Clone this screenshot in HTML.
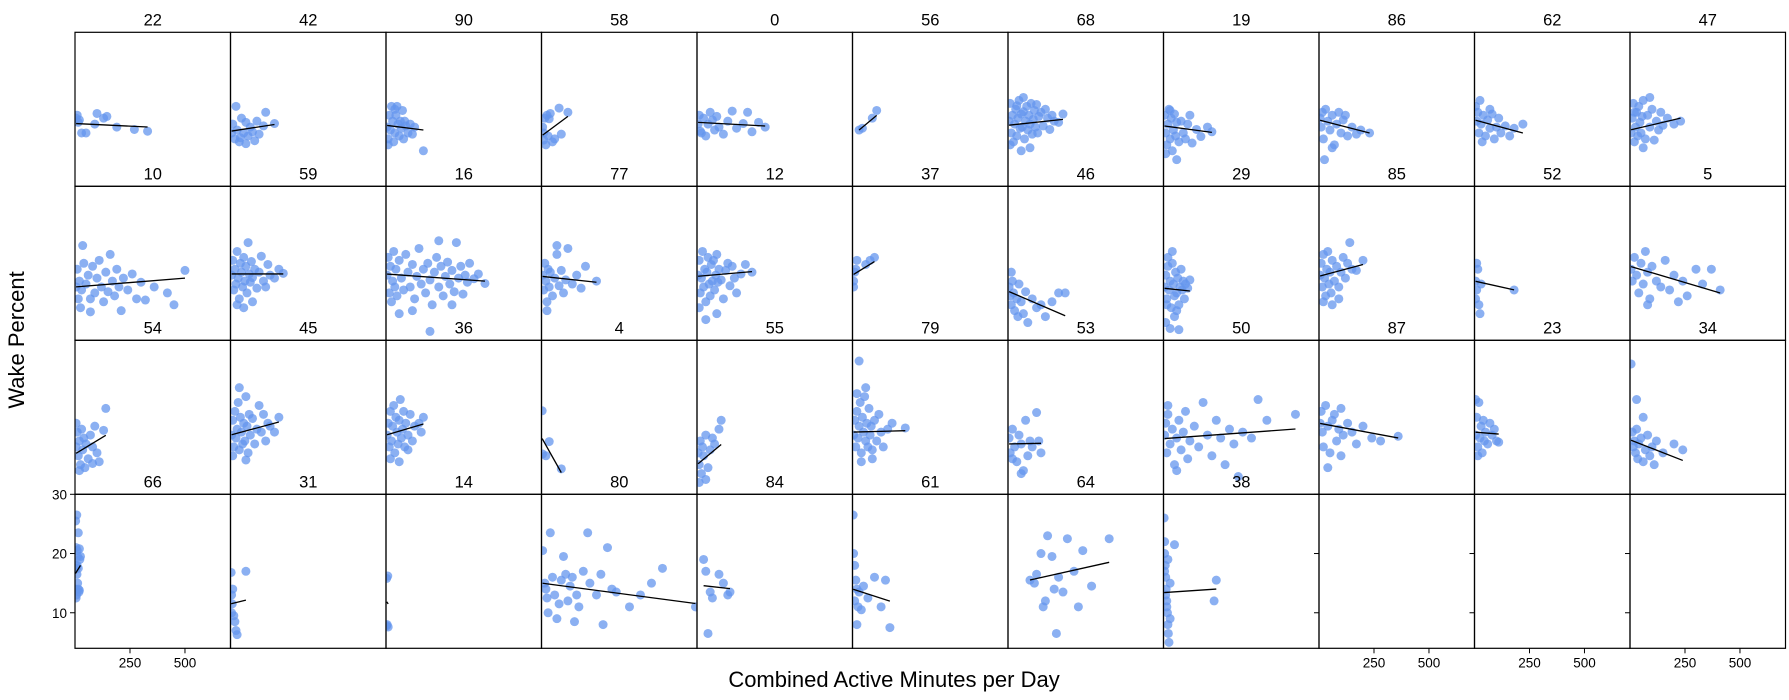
<!DOCTYPE html>
<html><head><meta charset="utf-8"><style>
html,body{margin:0;padding:0;background:#fff;}
svg{display:block;font-family:"Liberation Sans","DejaVu Sans",sans-serif;}
</style></head><body>
<svg id="chart" width="1789" height="700" viewBox="0 0 1789 700" xmlns="http://www.w3.org/2000/svg">
<text x="24" y="340" font-size="22" text-anchor="middle" transform="rotate(-90 24 340)">Wake Percent</text>
<text x="894" y="687" font-size="22" text-anchor="middle">Combined Active Minutes per Day</text>
</svg>
<script>
const panelTitles = ["22","42","90","58","0","56","68","19","86","62","47",
"10","59","16","77","12","37","46","29","85","52","5",
"54","45","36","4","55","79","53","50","87","23","34",
"66","31","14","80","84","61","64","38"];
const panelPoints = [
"5,15.5 10,16 30,13 50,13 15,14.8 90,14.5 100,16.3 130,15.5 145,15.8 190,14 270,13.6 330,13.3 20,15.2",
"5,13 10,14.5 20,12 30,13.5 40,11.5 50,15.5 60,13 70,14.8 80,12.5 90,14 100,13.2 110,11.7 120,15 130,12.8 150,14.2 160,16.5 200,14.6 25,17.5 70,11.2 45,12.2",
"5,14 10,12 15,16 20,13.5 25,17.5 30,15 35,11.5 40,13 45,16 50,17.5 55,14.5 60,12.5 65,15 70,13.8 75,16.8 80,12 90,14.2 100,13 110,14.5 120,12.8 130,14 170,10 10,11 40,17 85,15",
"5,14 10,13 15,15.5 20,11 25,16 30,12.5 40,16.3 50,11.5 60,12 80,17.2 90,12.8 120,16.5 10,11.8 35,15.4",
"5,14.5 10,16 20,13 30,15.5 40,12.5 50,14.5 60,16.5 80,13.5 90,15.8 100,14 120,12.8 140,15 160,16.7 180,13.8 210,14.6 230,16.5 250,13.2 280,14.8 310,14 15,13.3 70,15.2",
"30,13.5 45,13.8 90,15.5 110,16.8",
"5,15 10,18 15,13 20,16 25,11.5 30,14.5 35,17 40,12.5 45,15.5 50,18.5 55,13.8 60,16.2 65,14 70,19 75,12 80,15 85,17.5 90,13.5 95,16 100,14.5 105,18 110,12.8 115,15.3 120,16.8 125,14 130,17.8 135,13 140,15.8 150,16.5 160,14.2 170,17 180,15.5 190,13.6 200,16 210,15 230,14.8 250,16.2 10,11 60,10 100,10.5 40,17.6 70,16.6",
"5,16 10,13 15,11 20,14.5 25,17 30,12 35,15.5 40,10 45,13.5 50,16.2 55,12.5 60,14.8 70,11.5 80,15 90,13 100,12 110,14.5 120,16 130,11.3 150,13.6 170,12.4 200,14 220,13.2 60,8.5 10,9.5 30,16.8",
"5,15.5 10,14 15,16.5 20,12 30,17 40,15 50,13.5 60,16 70,11 80,14.5 90,16.5 100,13 110,15.2 130,12.5 150,14 170,12.8 190,13.5 230,13 25,8.5 60,10.5 120,16",
"5,17.5 10,15 15,16.5 20,13 25,18.5 30,14.5 40,16 50,12.5 60,15.2 70,13.8 80,16.2 90,12 100,14 110,15.5 120,13 140,14.2 160,12.5 180,13.8 220,14.5 35,11.5 70,17",
"5,13 10,15.5 15,18 20,11.5 25,14 30,16.5 35,12.5 40,17.5 45,14.8 50,13 55,15.8 60,18.5 70,12 80,16 90,14 100,17 110,11.8 120,15 130,13.5 140,16.5 150,14.3 170,15.5 200,14.5 230,15 60,10.5 90,19 20,16.5",
"5,13 10,16 15,11 20,14 25,9.5 30,12.5 40,17 50,13.5 60,15 70,11 80,16.5 90,12 100,14.5 110,17.5 120,13 130,10.5 140,15.5 150,12.2 160,18.5 170,14 180,11.5 190,16 200,13 210,9 220,14.5 240,12.5 260,15.2 280,11 300,13.8 320,10.8 360,13 420,12 450,10 500,15.8 35,20 70,8.8",
"5,15 10,17.5 15,12.5 20,16 25,13.5 30,19 35,14.5 40,11 45,17 50,15.5 55,13 60,18 65,14 70,16.5 75,12 80,20.5 85,15.2 90,13.8 95,17.3 100,14.6 110,16 120,12.8 130,15.5 140,18.2 150,14 160,13 170,16.8 180,15 200,14.5 220,16 240,15.3 60,9.5 100,10.5 30,10",
"5,15 10,18 15,12 20,16.5 25,10.5 30,14 35,19 40,13 45,16 50,11.5 60,17.5 70,14.5 80,12.5 90,18.5 100,15.5 110,13 120,16.8 130,11 140,14.8 150,19.5 160,13.5 170,16 180,12 190,17 200,14.2 210,10 220,15.5 230,18 240,13 250,16.5 260,11.5 270,14.8 280,17.2 290,13.5 300,15.8 310,12.2 320,20.5 330,14.5 340,16.5 350,11.8 360,15 370,13.8 380,17 400,14.4 420,15.2 450,13.6 200,5.5 120,9 300,10 60,8.5 240,20.8",
"5,15 10,12.5 15,17 20,14 25,10.5 30,16 35,13 40,15.5 50,11.5 60,14.5 70,18.5 80,13.2 90,15.8 100,12 110,14.2 120,19.5 140,13.5 160,15 180,12.8 200,16.5 250,14 25,9 70,20",
"5,15 10,17.5 15,12 20,14.5 25,19 30,13 35,16 40,10.5 45,15.5 50,18 55,13.5 60,11.5 65,16.8 70,14 75,17.5 80,12.5 85,15 90,18.5 95,13.8 100,16 110,14.2 120,11 130,15.8 140,17 150,13.2 160,16.5 170,14.5 180,12 200,15.2 220,16.8 250,15.5 40,7.5 90,8.5 10,9.5",
"5,14 10,15.5 15,16 20,17.5 5,13 60,16.8 80,17.5 100,18",
"5,13 10,11.5 15,10 20,14 25,12 30,9 40,11 50,13.5 60,10.5 70,8.5 80,12.2 90,7 110,11 130,9.5 150,10 170,8 200,10.5 230,12 260,12 15,15.5 45,8",
"5,13 10,15 15,11 20,16.5 25,12.5 30,14 35,9.5 40,17 45,13.5 50,11.5 55,15.5 60,12 65,14.5 70,10 75,13 80,16 85,12.5 90,14 95,11 100,13.5 110,12.8 120,14.2 10,7 30,6 50,8 70,5.8 20,18 40,19 60,9 15,10",
"5,15 10,17 15,13 20,18.5 25,14.5 30,11.5 35,16 40,19 45,13.5 50,15.5 55,12 60,17.5 70,14 80,16.5 90,13 100,15.5 110,18 120,14.5 130,17 150,16 170,15.8 200,17.5 140,20.5 20,10.5 60,10 90,11",
"5,14 10,12.5 15,16 20,10 25,8.5 10,17 5,11 30,13.5 180,12.5",
"5,16 10,14 20,18 30,15 40,12 50,17 60,13.5 70,19 80,15.5 90,11 100,16.5 120,14 140,13 160,17.5 180,12.5 200,15 220,10.5 240,14 260,11.5 300,16 330,13.5 370,16 410,12.5 80,10",
"5,12 10,14.5 15,10.5 20,13 25,9 30,15 35,11.5 40,13.5 45,8.5 50,12.5 60,10 70,14 80,12 90,15.5 100,11 110,9.5 130,14.8 140,18.5 5,16 20,8 80,9.2",
"5,14 10,16.5 15,12 20,18 25,13.5 30,15 35,19.5 40,11.5 45,17 50,14.5 55,12.5 60,16 65,13 70,20.5 75,15.5 80,11 85,17.5 90,14 100,16.8 110,12.5 120,15 130,19 140,14.5 150,17.5 160,13 170,16 180,15.5 200,14.5 220,17 40,22 10,10.5 70,9.8",
"5,14 10,16 15,12 20,18 25,13 30,15.5 35,19 40,11 45,17 50,14.5 55,12.5 60,16.5 65,20 70,13.5 75,15 80,18 85,12 90,16 100,14 110,17.5 120,13 130,15.5 150,16 160,14.5 170,17 20,10 60,9.5 100,11.5",
"3,18.1 5,10.8 20,10.5 35,12.9 90,8.3",
"5,11 10,9 15,13 20,7.5 25,12 30,10.5 40,14 50,8.5 60,11.5 70,13.5 80,12.5 100,15 110,16.5 10,6 40,6.5",
"5,14 10,16.5 15,12 20,18 25,13.5 30,15.5 35,19.5 40,11 45,17 50,14.5 55,20.5 60,13 65,16 70,12 75,18.5 80,14 85,15.5 90,11.5 100,16.5 110,13 120,17.5 130,14.5 140,12 160,15 180,16 240,15.2 30,26.5 60,22 40,9.5 90,10 20,21",
"5,13.5 10,11 20,15 30,12 40,9.5 50,14 60,12.5 70,8 80,16.5 90,10.5 100,13 110,12 130,17.8 140,13 150,11 60,7.5 20,10",
"5,14 10,16 15,11 20,17.5 30,12.5 40,15 50,9 60,13.5 70,16.5 80,11.5 90,14.5 100,18 110,10 120,13 140,15.5 160,12 180,19.5 200,14 220,10.5 240,16.5 260,13.5 280,9 300,15 320,12.5 340,7 360,14.5 400,13.5 430,20 470,16.5 600,17.5 60,8 20,19",
"5,16 10,18 15,14.5 20,12 30,19 40,15.5 50,11 60,16.5 70,17.5 80,13 90,15 100,10.5 110,14 130,16 150,14.5 170,12.5 200,15.5 240,13.5 280,13 360,13.8 40,8.5 100,18.5",
"5,14 10,17 15,12 20,19.5 25,13.5 30,15.5 35,11 40,16.5 45,13 50,14.5 60,12.5 70,16 80,14 90,15 100,13 110,12.8 5,20 15,10.5",
"5,26 10,14.5 15,12 20,13 25,11 30,15 35,10 40,12.5 50,13.5 60,9.5 70,11.5 80,14 90,10.5 100,12 110,9 120,13 150,11 200,12.5 240,11.5 60,17 30,20",
"3,25.5 8,26.5 15,23.5 5,21 10,20.5 20,20.8 12,19.5 3,18 6,17.5 9,16.5 12,15 15,14 18,13.5 5,12.5 20,13.8 25,19.5 2,14 7,13 10,18 15,17.5 22,19",
"3,16.8 5,13 8,11.5 10,14 15,9.5 20,8.5 25,7 30,6.3 5,10 70,17",
"3,15.8 8,16.2 5,8 10,7.6 3,7.8",
"5,20.5 15,15 20,14 25,12.5 30,10 40,23.5 50,16 60,13 70,9 80,11.5 90,15.5 100,19.5 110,16.5 120,12 130,14.5 140,16 160,13 170,11 190,17 210,23.5 220,15 250,13 270,16.5 300,21 320,14 340,13.5 400,11 450,13 500,15 550,17.5 700,11 280,8 150,8.5",
"30,19 40,17 50,6.5 60,13.5 70,12.5 100,16.5 120,15 140,13 150,13.5",
"3,26.5 5,20 10,18 15,15.5 20,14 25,11 30,13.5 10,12 40,10.5 50,14.5 70,12.5 100,16 130,11 150,15.5 170,7.5 20,8",
"100,15.5 120,15 150,20 170,12 180,23 200,19.5 210,14 220,6.5 230,16 250,13.5 270,22.5 300,17 320,11 340,20.5 380,14.5 460,22.5 130,16.5 160,11",
"3,26 5,20 8,18 10,16 12,14 15,12 18,10 20,8 22,6.5 25,5 30,9 5,22 10,13 15,11 30,15 50,21.5 240,15.5 230,12 5,17 20,19"
];
const fitIntercept = [14.6,13.3,14.3,12.5,14.8,12.57,14.3,14.2,15.2,15.2,13.5,
13,15.2,15.2,14.8,14.8,15,12.3,12.8,14.8,14,16.5,
10.8,14,14,13.6,9,14.5,12.5,13.4,16,14.5,13.2,
16.5,11.5,12,15,14.7,14,14.7,13.4];
const fitSlope = [-0.0018,0.0057,-0.0047,0.0275,-0.002,0.031,0.004,-0.005,-0.0096,-0.01,0.0087,
0.003,0,-0.0027,-0.004,0.0032,0.023,-0.016,-0.004,0.01,-0.0083,-0.011,
0.0225,0.01,0.011,-0.066,0.031,0.001,0.0007,0.0027,-0.0069,-0.003,-0.0145,
0.06,0.009,-0.05,-0.0049,-0.0042,-0.012,0.0083,0.0025];
const xTicks = [250, 500];
const yTicks = [30, 20, 10];

const NS = "http://www.w3.org/2000/svg";
const svg = document.getElementById("chart");
const L = 75, Tp = 32.3, PW = 155.5, PH = 154, NC = 11, NR = 4;
const XMIN = 0, XMAX = 707, YMIN = 4, YMAX = 30;
function sx(c, v){ return L + c*PW + (v - XMIN)/(XMAX - XMIN)*PW; }
function sy(r, v){ return Tp + r*PH + (YMAX - v)/(YMAX - YMIN)*PH; }
function mk(tag, attrs){ const e = document.createElementNS(NS, tag); for (const k in attrs) e.setAttribute(k, attrs[k]); return e; }

const defs = mk("defs", {});
svg.appendChild(defs);

for (let i = 0; i < NC*NR; i++){
  const r = Math.floor(i/NC), c = i % NC;
  const px = L + c*PW, py = Tp + r*PH;
  const g = mk("g", {});
  
  
  svg.appendChild(g);
  const cp = mk("clipPath", {id: "cp"+i});
  cp.appendChild(mk("rect", {x: px, y: py, width: PW, height: PH}));
  defs.appendChild(cp);
  if (i < panelPoints.length){
    const pg = mk("g", {"clip-path": "url(#cp"+i+")"});
    g.appendChild(pg);
    const pts = panelPoints[i].trim().split(/\s+/).map(s => s.split(",").map(Number));
    let xmn = Infinity, xmx = -Infinity;
    pts.forEach(p => {
      xmn = Math.min(xmn, p[0]); xmx = Math.max(xmx, p[0]);
      const ci = mk("circle", {cx: sx(c, p[0]), cy: sy(r, p[1]), r: 4.5, fill: "#6495ED", "fill-opacity": 0.75});
      
      
      pg.appendChild(ci);
    });
    const a = fitIntercept[i], b = fitSlope[i];
    const ln = mk("line", {x1: sx(c, xmn), y1: sy(r, a + b*xmn), x2: sx(c, xmx), y2: sy(r, a + b*xmx), stroke: "#000", "stroke-width": 1.3});
    
    
    pg.appendChild(ln);
    const t = mk("text", {x: px + PW/2, y: py - 7, "font-size": 16.5, "text-anchor": "middle"});
    t.textContent = panelTitles[i];
    
    
    svg.appendChild(t);
  }
  const fr = mk("rect", {x: px, y: py, width: PW, height: PH, fill: "none", stroke: "#000", "stroke-width": 1.2});
  
  
  g.appendChild(fr);
  if (r === NR-1 && (c === 0 || i >= panelPoints.length)){
    xTicks.forEach(v => {
      const x = sx(c, v);
      const tk = mk("line", {x1: x, y1: py+PH, x2: x, y2: py+PH+5, stroke: "#000", "stroke-width": 1});
      
      
      svg.appendChild(tk);
      const tl = mk("text", {x: x, y: py+PH+19, "font-size": 13.5, "text-anchor": "middle"});
      tl.textContent = v;
      
      
      svg.appendChild(tl);
    });
    yTicks.forEach(v => {
      const y = sy(r, v);
      const tk = mk("line", {x1: px-5, y1: y, x2: px, y2: y, stroke: "#000", "stroke-width": 1});
      
      
      svg.appendChild(tk);
      if (c === 0){
        const tl = mk("text", {x: px-8, y: y+5, "font-size": 13.5, "text-anchor": "end"});
        tl.textContent = v;
        
        
        svg.appendChild(tl);
      }
    });
  }
}
</script>
</body></html>
